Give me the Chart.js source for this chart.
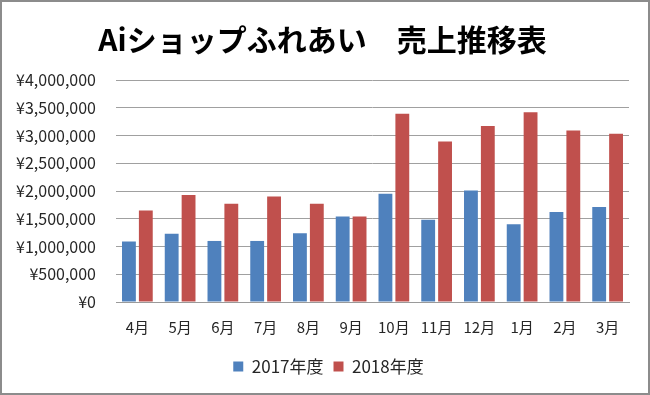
<!DOCTYPE html>
<html>
<head>
<meta charset="utf-8">
<script src="https://cdn.jsdelivr.net/npm/chart.js"></script>
<style>
    body { margin: 0; background: #fff; }
    #frame {
        position: absolute; left: 0; top: 0;
        width: 650px; height: 395px;
        box-sizing: border-box;
        border: 2px solid #8c8c8c;
        background: #fff;
    }
    #chart { display: block; }
</style>
</head>
<body>
<div id="frame"><canvas id="chart" width="646" height="391"></canvas></div>
<script>
// データ（売上）
const months = ['4月', '5月', '6月', '7月', '8月', '9月', '10月', '11月', '12月', '1月', '2月', '3月'];
const sales2017 = [1090000, 1230000, 1100000, 1100000, 1240000, 1540000, 1950000, 1480000, 2010000, 1400000, 1620000, 1710000];
const sales2018 = [1650000, 1930000, 1770000, 1900000, 1770000, 1540000, 3390000, 2890000, 3170000, 3420000, 3090000, 3030000];
const seriesNames = ['2017年度', '2018年度'];
const chartTitle = 'Aiショップふれあい　売上推移表';

const fontFamily = '"Noto Sans CJK JP", "Noto Sans", sans-serif';
const textColor = '#262626';

Chart.defaults.font.family = fontFamily;
Chart.defaults.color = textColor;

// タイトルと凡例を少し右へずらす（元のExcelの配置に合わせる）
const shiftBoxes = {
    id: 'shiftBoxes',
    afterLayout(chart) {
        const moves = [[chart.titleBlock, 5], [chart.legend, 11]];
        moves.forEach(([box, dx]) => {
            if (!box) return;
            box.left += dx;
            box.right += dx;
        });
    }
};

const ctx = document.getElementById('chart').getContext('2d');

new Chart(ctx, {
    type: 'bar',
    data: {
        labels: months,
        datasets: [
            {
                label: seriesNames[0],
                data: sales2017,
                backgroundColor: '#4F81BD',
                borderWidth: 0
            },
            {
                label: seriesNames[1],
                data: sales2018,
                backgroundColor: '#C0504D',
                borderWidth: 0
            }
        ]
    },
    options: {
        responsive: false,
        animation: false,
        layout: {
            padding: { left: 4, right: 19, top: 0, bottom: 8 }
        },
        datasets: {
            bar: {
                barPercentage: 0.82,
                categoryPercentage: 0.79
            }
        },
        plugins: {
            title: {
                display: true,
                text: chartTitle,
                color: '#000',
                font: { size: 30, weight: 'bold' },
                padding: { top: 20, bottom: 22 }
            },
            legend: {
                display: true,
                position: 'bottom',
                labels: {
                    color: textColor,
                    font: { size: 17 },
                    boxWidth: 10,
                    boxHeight: 10,
                    padding: 10
                }
            },
            tooltip: { enabled: false }
        },
        scales: {
            x: {
                grid: { display: false },
                border: { display: true, color: '#9a9a9a', width: 1 },
                ticks: {
                    color: textColor,
                    font: { size: 15 },
                    padding: 8,
                    maxRotation: 0,
                    autoSkip: false
                },
                afterFit: function(scale) {
                    scale.height = 46;
                }
            },
            y: {
                min: 0,
                max: 4000000,
                grid: {
                    color: '#a0a0a0',
                    lineWidth: 1,
                    drawTicks: false
                },
                border: { display: false },
                ticks: {
                    stepSize: 500000,
                    color: textColor,
                    font: { size: 16 },
                    padding: 20,
                    callback: function(value) {
                        return '¥' + value.toLocaleString('en-US');
                    }
                },
                afterFit: function(scale) {
                    scale.width = 110;
                }
            }
        }
    },
    plugins: [shiftBoxes]
});
</script>
</body>
</html>
